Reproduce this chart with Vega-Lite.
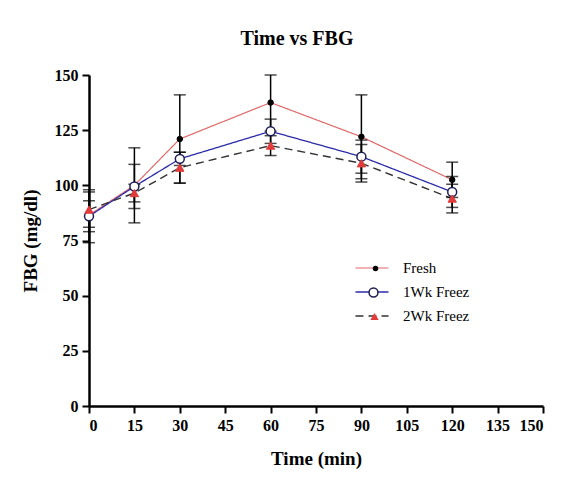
{
  "$schema": "https://vega.github.io/schema/vega-lite/v6.json",
  "width": 454,
  "height": 331,
  "autosize": "none",
  "padding": {"left": 89, "top": 75, "right": 33, "bottom": 81},
  "background": "white",
  "title": {
    "text": "Time vs FBG",
    "font": "Liberation Serif",
    "fontSize": 20,
    "fontWeight": "bold",
    "color": "black",
    "anchor": "middle",
    "dx": -19,
    "offset": 18
  },
  "data": {
    "values": [
      {"time": 0, "group": "Fresh", "mean": 86.5, "lo": 74, "hi": 98},
      {"time": 15, "group": "Fresh", "mean": 100, "lo": 83, "hi": 117},
      {"time": 30, "group": "Fresh", "mean": 121, "lo": 101, "hi": 141},
      {"time": 60, "group": "Fresh", "mean": 137.5, "lo": 124.5, "hi": 150},
      {"time": 90, "group": "Fresh", "mean": 122, "lo": 103, "hi": 141},
      {"time": 120, "group": "Fresh", "mean": 102.5, "lo": 94.5, "hi": 110.5},
      {"time": 0, "group": "1Wk Freez", "mean": 86, "lo": 79, "hi": 93},
      {"time": 15, "group": "1Wk Freez", "mean": 99.5, "lo": 89.5, "hi": 109.5},
      {"time": 30, "group": "1Wk Freez", "mean": 112, "lo": 109, "hi": 115},
      {"time": 60, "group": "1Wk Freez", "mean": 124.5, "lo": 119, "hi": 130},
      {"time": 90, "group": "1Wk Freez", "mean": 113, "lo": 105.5, "hi": 120.5},
      {"time": 120, "group": "1Wk Freez", "mean": 97, "lo": 90, "hi": 104},
      {"time": 0, "group": "2Wk Freez", "mean": 89, "lo": 81, "hi": 97},
      {"time": 15, "group": "2Wk Freez", "mean": 96.5, "lo": 92.5, "hi": 100.5},
      {"time": 30, "group": "2Wk Freez", "mean": 108, "lo": 101, "hi": 115},
      {"time": 60, "group": "2Wk Freez", "mean": 118, "lo": 113.5, "hi": 122.5},
      {"time": 90, "group": "2Wk Freez", "mean": 110, "lo": 101.5, "hi": 118.5},
      {"time": 120, "group": "2Wk Freez", "mean": 94, "lo": 87.5, "hi": 100.5}
    ]
  },
  "encoding": {
    "x": {
      "field": "time",
      "type": "quantitative",
      "title": "Time (min)",
      "scale": {"domain": [0, 150], "nice": false, "zero": false},
      "axis": {"values": [0, 15, 30, 45, 60, 75, 90, 105, 120, 135, 150], "titlePadding": 16}
    }
  },
  "layer": [
    {
      "mark": {"type": "line", "clip": false},
      "encoding": {
        "y": {
          "field": "mean",
          "type": "quantitative",
          "title": "FBG (mg/dl)",
          "scale": {"domain": [0, 150], "nice": false},
          "axis": {"values": [0, 25, 50, 75, 100, 125, 150], "titlePadding": 14}
        },
        "color": {
          "field": "group",
          "type": "nominal",
          "scale": {"domain": ["Fresh", "1Wk Freez", "2Wk Freez"], "range": ["#e06868", "#2b2ba8", "#333333"]},
          "legend": {
            "title": null,
            "orient": "none",
            "legendX": 274,
            "legendY": 184,
            "symbolType": "M-2,0H2",
            "symbolSize": 272,
            "labelOffset": 22,
            "rowPadding": 7,
            "labelFont": "Liberation Serif",
            "labelFontSize": 15,
            "labelColor": "black",
            "padding": 0
          }
        },
        "strokeDash": {
          "field": "group",
          "type": "nominal",
          "scale": {"domain": ["Fresh", "1Wk Freez", "2Wk Freez"], "range": [[1, 0], [1, 0], [8, 5]]},
          "legend": {"title": null, "orient": "none", "legendX": 274, "legendY": 184, "symbolType": "M-2,0H2", "symbolSize": 272, "labelOffset": 22, "rowPadding": 7, "padding": 0}
        },
        "strokeWidth": {
          "field": "group",
          "type": "nominal",
          "scale": {"domain": ["Fresh", "1Wk Freez", "2Wk Freez"], "range": [1.2, 1.4, 3.2]},
          "legend": {"title": null, "orient": "none", "legendX": 274, "legendY": 184, "symbolType": "M-2,0H2", "symbolSize": 272, "labelOffset": 22, "rowPadding": 7, "padding": 0}
        }
      }
    },
    {
      "mark": {"type": "errorbar", "ticks": {"size": 12}, "color": "black", "thickness": 1.5},
      "encoding": {
        "y": {"field": "lo", "type": "quantitative", "title": "FBG (mg/dl)", "scale": {"domain": [0, 150], "nice": false}},
        "y2": {"field": "hi"}
      }
    },
    {
      "transform": [{"filter": "datum.group === 'Fresh'"}],
      "mark": {"type": "point", "filled": true, "fill": "black", "stroke": "black", "strokeWidth": 1, "size": 30, "opacity": 1},
      "encoding": {
        "y": {"field": "mean", "type": "quantitative", "title": "FBG (mg/dl)"},
        "shape": {
          "field": "group",
          "type": "nominal",
          "scale": {"range": ["circle"]},
          "legend": {"title": null, "orient": "none", "legendX": 279, "legendY": 186, "labelExpr": "''", "padding": 0, "labelFontSize": 15, "symbolSize": 30, "symbolFillColor": "black", "symbolStrokeColor": "black", "symbolStrokeWidth": 1, "symbolOpacity": 1}
        }
      }
    },
    {
      "transform": [{"filter": "datum.group === '1Wk Freez'"}],
      "mark": {"type": "point", "filled": false, "fill": "white", "stroke": "#1c1c50", "strokeWidth": 1.5, "size": 80, "opacity": 1},
      "encoding": {
        "y": {"field": "mean", "type": "quantitative", "title": "FBG (mg/dl)"},
        "shape": {
          "field": "group",
          "type": "nominal",
          "scale": {"range": ["circle"]},
          "legend": {"title": null, "orient": "none", "legendX": 277, "legendY": 210, "labelExpr": "''", "padding": 0, "labelFontSize": 15, "symbolSize": 80, "symbolStrokeWidth": 1.5, "symbolOpacity": 1}
        }
      }
    },
    {
      "transform": [{"filter": "datum.group === '2Wk Freez'"}],
      "mark": {"type": "point", "filled": true, "fill": "#e23b3b", "stroke": "#e23b3b", "strokeWidth": 1, "size": 70, "opacity": 1},
      "encoding": {
        "y": {"field": "mean", "type": "quantitative", "title": "FBG (mg/dl)"},
        "shape": {
          "field": "group",
          "type": "nominal",
          "scale": {"range": ["triangle-up"]},
          "legend": {"title": null, "orient": "none", "legendX": 278, "legendY": 234, "labelExpr": "''", "padding": 0, "labelFontSize": 15, "symbolSize": 70, "symbolFillColor": "#e23b3b", "symbolStrokeColor": "#e23b3b", "symbolStrokeWidth": 1, "symbolOpacity": 1}
        }
      }
    }
  ],
  "resolve": {"scale": {"shape": "independent"}, "legend": {"shape": "independent"}},
  "config": {
    "view": {"stroke": null},
    "axis": {
      "grid": false,
      "domainColor": "black",
      "domainWidth": 2.5,
      "tickColor": "black",
      "tickWidth": 2,
      "tickSize": 7,
      "labelFont": "Liberation Serif",
      "labelFontSize": 16,
      "labelFontWeight": "bold",
      "labelColor": "black",
      "labelPadding": 4,
      "titleFont": "Liberation Serif",
      "titleFontSize": 19,
      "titleFontWeight": "bold",
      "titleColor": "black"
    }
  }
}
